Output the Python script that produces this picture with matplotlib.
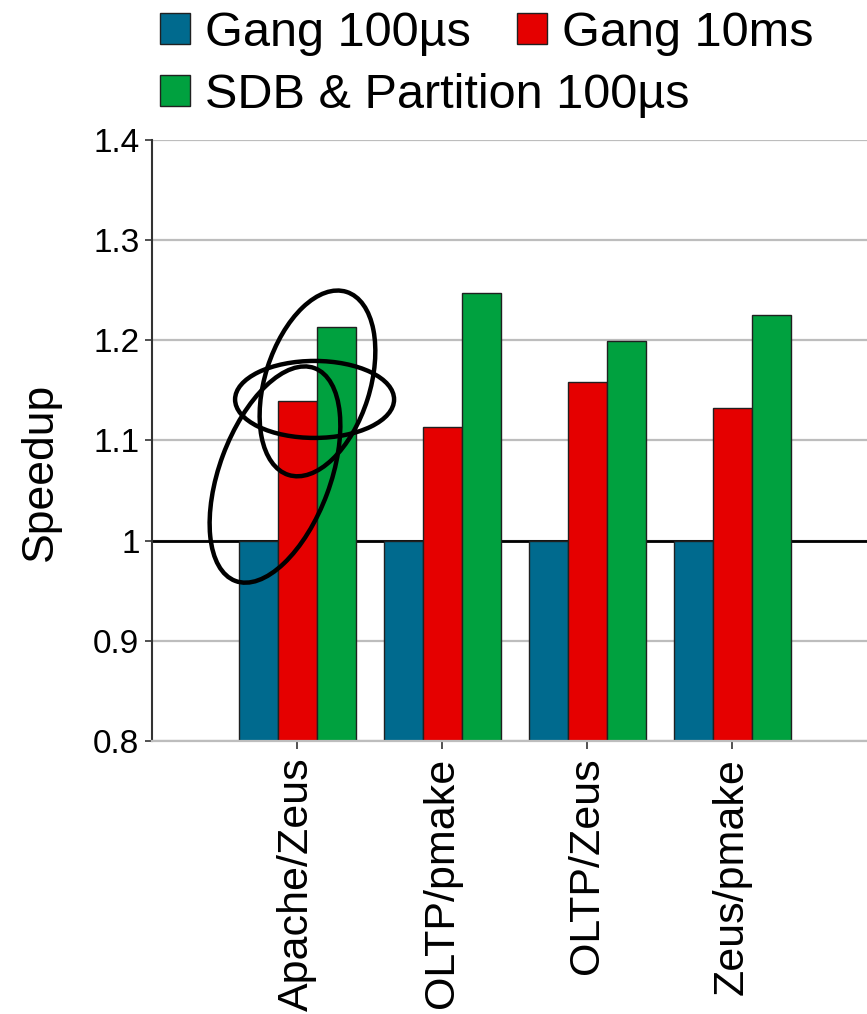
import numpy as np
import matplotlib
matplotlib.use("Agg")
import matplotlib.pyplot as plt
from matplotlib.patches import Ellipse
from matplotlib.transforms import ScaledTranslation

# data
workloads = ["Apache/Zeus", "OLTP/pmake", "OLTP/Zeus", "Zeus/pmake"]
gang_100us = [1.0, 1.0, 1.0, 1.0]
gang_10ms = [1.139, 1.113, 1.158, 1.132]
sdb_partition = [1.213, 1.247, 1.199, 1.225]
series_names = ["Gang 100µs", "Gang 10ms", "SDB & Partition 100µs"]
yticks = [0.8, 0.9, 1.0, 1.1, 1.2, 1.3, 1.4]
ytick_labels = ["0.8", "0.9", "1", "1.1", "1.2", "1.3", "1.4"]

colors = ["#006a8e", "#e50000", "#00a13f"]

plt.rcParams["font.family"] = ["Liberation Sans", "DejaVu Sans"]

W, H = 867, 1014
fig = plt.figure(figsize=(W / 100, H / 100), dpi=100)
ax = fig.add_axes([152 / W, 1 - 741 / H, (W - 152) / W, 601 / H])

x = np.arange(len(workloads))
w = 0.269
bars = []
for k, vals in enumerate([gang_100us, gang_10ms, sdb_partition]):
    b = ax.bar(x + (k - 1) * w, vals, w, color=colors[k], edgecolor="#202020",
               linewidth=1.0, zorder=2, label=series_names[k])
    bars.append(b)

ax.set_xlim(-1.0, 3.93)
ax.set_ylim(0.8, 1.4)
ax.set_yticks(yticks)
ax.set_yticklabels(ytick_labels)
ax.set_xticks(x)
ax.set_xticklabels(workloads, rotation=90, va="top", ha="center")

ax.yaxis.grid(True, color="#bdbdbd", linewidth=1.6)
ax.set_axisbelow(True)
ax.axhline(1.0, color="black", linewidth=2.0, zorder=1)

for s in ["top", "right"]:
    ax.spines[s].set_visible(False)
ax.spines["left"].set_color("#333333")
ax.spines["left"].set_linewidth(1.5)
ax.spines["bottom"].set_color("#bdbdbd")
ax.spines["bottom"].set_linewidth(1.6)

ax.tick_params(axis="y", labelsize=24, length=5, width=1.2, color="#333333", pad=4)
ax.tick_params(axis="x", labelsize=31, length=6, width=1.2, color="#333333", pad=6)

ax.set_ylabel("Speedup", fontsize=32)
ax.yaxis.set_label_coords(-0.128, 0.448)

# legend: two rows, first row two entries, second row one entry
leg_kw = dict(frameon=False, fontsize=35, handlelength=0.62, handleheight=0.62,
              handletextpad=0.3, columnspacing=0.95, borderpad=0,
              borderaxespad=0, loc="center left")
leg1 = fig.legend([bars[0], bars[1]], series_names[:2], ncol=2,
                  bbox_to_anchor=(160 / W, 1 - 33 / H), **leg_kw)
leg2 = fig.legend([bars[2]], series_names[2:], ncol=1,
                  bbox_to_anchor=(160 / W, 1 - 95 / H), **leg_kw)

# hand-drawn ellipses: centre in data coords, size in pixels
ellipses = [
    (0.141, 1.157, 192, 105, 72.4),
    (0.121, 1.141, 159, 77, 0.0),
    (-0.152, 1.066, 227, 111, 69.6),
]
for cx, cy, ew, eh, ang in ellipses:
    tr = fig.dpi_scale_trans + ScaledTranslation(cx, cy, ax.transData)
    e = Ellipse((0, 0), ew / 100, eh / 100, angle=ang, transform=tr,
                fill=False, edgecolor="black", linewidth=3.2, zorder=5,
                clip_on=False)
    ax.add_artist(e)

fig.savefig("out.png", dpi=100)
